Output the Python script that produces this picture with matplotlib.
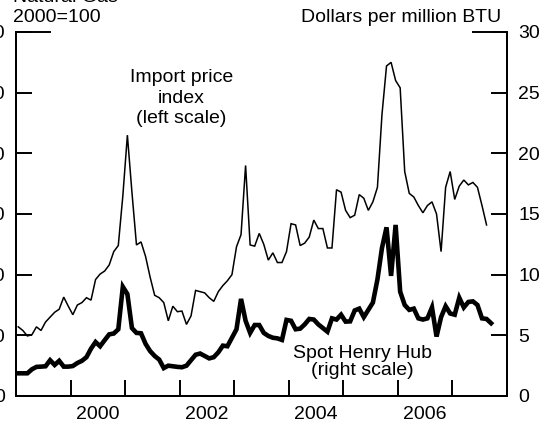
#!/usr/bin/env python3
"""Natural gas: import price index (left) vs spot Henry Hub price (right), monthly 1999-2007."""

import matplotlib

matplotlib.use("Agg")
import matplotlib.pyplot as plt
import numpy as np
from matplotlib.ticker import FixedLocator, NullFormatter

START_YEAR = 1999

# Import price index, 2000=100 (left scale), monthly from Jan 1999
IMPORT_INDEX = [
    57, 54, 49.5, 50.5, 57, 54, 61, 65, 69, 71.5, 81.5, 74,
    67, 75, 77, 81, 79, 96, 100.5, 103, 108, 119, 124, 165,
    215, 168, 124.5, 127, 115, 98, 83, 81, 77, 62, 74, 69.5,
    70, 59, 66, 87, 86, 85, 81, 78, 86, 91, 95, 100,
    123, 133, 190, 124.5, 123.5, 134, 125, 112, 118, 110, 110, 119,
    142, 141, 124, 126, 131, 145, 138, 138, 122, 122, 170, 168,
    153, 147, 149, 166, 163, 153, 160, 172, 232, 272, 275, 260,
    254, 185, 167, 164, 157, 151, 157, 160, 150, 119, 172, 185,
    162, 173, 178, 174, 176, 172, 157, 141,
]

# Spot Henry Hub, dollars per million BTU (right scale), monthly from Jan 1999
HENRY_HUB = [
    1.87, 1.87, 1.87, 2.2, 2.4, 2.42, 2.45, 2.95, 2.56, 2.9, 2.42, 2.42,
    2.47, 2.72, 2.9, 3.2, 3.9, 4.45, 4.1, 4.6, 5.08, 5.15, 5.5, 9.0,
    8.4, 5.6, 5.2, 5.17, 4.3, 3.7, 3.3, 3.0, 2.3, 2.5, 2.45, 2.4,
    2.37, 2.5, 2.95, 3.4, 3.5, 3.3, 3.1, 3.2, 3.6, 4.15, 4.1, 4.8,
    5.5, 8.0, 6.2, 5.2, 5.85, 5.85, 5.2, 4.95, 4.8, 4.75, 4.62, 6.27,
    6.2, 5.5, 5.55, 5.9, 6.35, 6.3, 5.9, 5.6, 5.3, 6.4, 6.3, 6.7,
    6.13, 6.15, 7.05, 7.2, 6.5, 7.1, 7.7, 9.6, 12.2, 13.9, 9.9, 14.1,
    8.6, 7.5, 7.1, 7.2, 6.4, 6.3, 6.4, 7.3, 4.9, 6.5, 7.4, 6.8,
    6.7, 8.1, 7.3, 7.75, 7.8, 7.5, 6.4, 6.35, 6.0,
]

LEFT_TICKS = [0, 50, 100, 150, 200, 250, 300]
RIGHT_TICKS = [0, 5, 10, 15, 20, 25, 30]
YEAR_LABELS = ["2000", "2002", "2004", "2006"]

FONT = "Liberation Sans"
FS = 14


def month_centers(n: int) -> np.ndarray:
    # mid-month positions in decimal years
    return START_YEAR + (np.arange(n) + 0.5) / 12.0


def main() -> None:
    plt.rcParams["font.family"] = FONT
    fig = plt.figure(figsize=(5.54, 4.22), dpi=100)
    ax = fig.add_axes([16 / 554, 26 / 422, 491 / 554, 364 / 422])
    ax2 = ax.twinx()

    ax.plot(month_centers(len(IMPORT_INDEX)), IMPORT_INDEX, color="black", lw=1.1,
            solid_joinstyle="miter")
    ax2.plot(month_centers(len(HENRY_HUB)), HENRY_HUB, color="black", lw=3.3,
             solid_joinstyle="miter")

    ax.set_xlim(1999, 2008)
    ax.set_ylim(0, 300)
    ax2.set_ylim(0, 30)

    ax.set_yticks(LEFT_TICKS)
    ax2.set_yticks(RIGHT_TICKS)

    label_pos = [int(y) + 0.5 for y in YEAR_LABELS]
    ax.xaxis.set_major_locator(FixedLocator(label_pos))
    ax.set_xticklabels(YEAR_LABELS)
    ax.xaxis.set_minor_locator(FixedLocator(list(range(2000, 2008))))
    ax.xaxis.set_minor_formatter(NullFormatter())

    for a in (ax, ax2):
        a.spines["top"].set_visible(False)
        for side in ("left", "right", "bottom"):
            a.spines[side].set_linewidth(1.4)

    ax.tick_params(axis="x", which="major", length=0, pad=7, labelsize=FS)
    ax.tick_params(axis="x", which="minor", direction="in", length=11.5, width=1.4)
    ax.tick_params(axis="y", direction="in", length=11.5, width=1.4, pad=8, labelsize=FS)
    ax2.tick_params(axis="y", direction="in", length=11.5, width=1.4, pad=8, labelsize=FS)

    # longer tick marks at the top of both scales
    ax.axhline(300, xmin=0, xmax=34 / 491, color="black", lw=1.4, clip_on=False)
    ax2.axhline(30, xmin=1 - 34 / 491, xmax=1, color="black", lw=1.4, clip_on=False)

    fig.text(13 / 554, 1 - 2.5 / 422, "Natural Gas", fontsize=FS, ha="left", va="baseline")
    fig.text(13 / 554, 1 - 22 / 422, "2000=100", fontsize=FS, ha="left", va="baseline")
    fig.text(501 / 554, 1 - 22 / 422, "Dollars per million BTU", fontsize=FS,
             ha="right", va="baseline")

    ax.text(2002.03, 245.5, "Import price\nindex\n(left scale)", fontsize=FS,
            ha="center", va="center", linespacing=1.25)
    ax.text(2005.35, 28, "Spot Henry Hub\n(right scale)", fontsize=FS,
            ha="center", va="center", linespacing=0.98)

    fig.savefig("out.png", dpi=100)
    plt.close(fig)


if __name__ == "__main__":
    main()
